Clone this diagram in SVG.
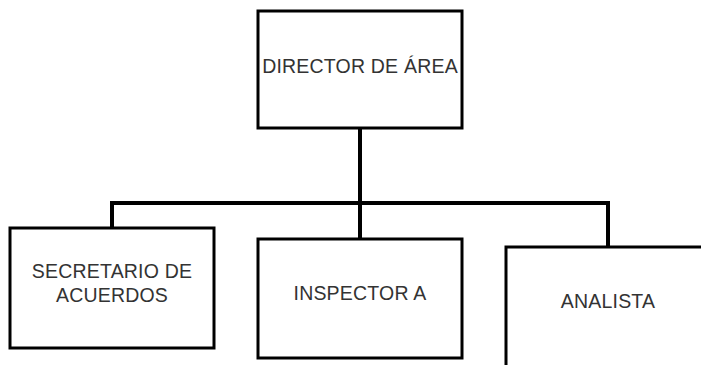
<svg xmlns="http://www.w3.org/2000/svg" width="701" height="365" viewBox="0 0 701 365">
<style>
.box{fill:#fff;stroke:#000;stroke-width:3}
.con{fill:none;stroke:#000;stroke-width:4;stroke-linejoin:miter}
.t{font-family:"Liberation Sans",Arial,sans-serif;font-size:19.5px;letter-spacing:0.2px;fill:#333;text-anchor:middle}
</style>
<rect width="701" height="365" fill="#fff"/>
<g id="connectors">
<path class="con" d="M360 128 V203 M112 228 V203 H608 V247 M360 203 V239"/>
</g>
<g id="director">
<rect class="box" x="258" y="11" width="204" height="117"/>
<text class="t" x="360" y="73">DIRECTOR DE ÁREA</text>
</g>
<g id="secretario">
<rect class="box" x="10" y="228" width="204" height="120"/>
<text class="t" x="112" y="278">SECRETARIO DE</text>
<text class="t" x="112" y="302">ACUERDOS</text>
</g>
<g id="inspector">
<rect class="box" x="258" y="239" width="204" height="119"/>
<text class="t" x="360" y="300">INSPECTOR A</text>
</g>
<g id="analista">
<rect class="box" x="506" y="247" width="220" height="140"/>
<text class="t" x="608" y="308">ANALISTA</text>
</g>
</svg>
